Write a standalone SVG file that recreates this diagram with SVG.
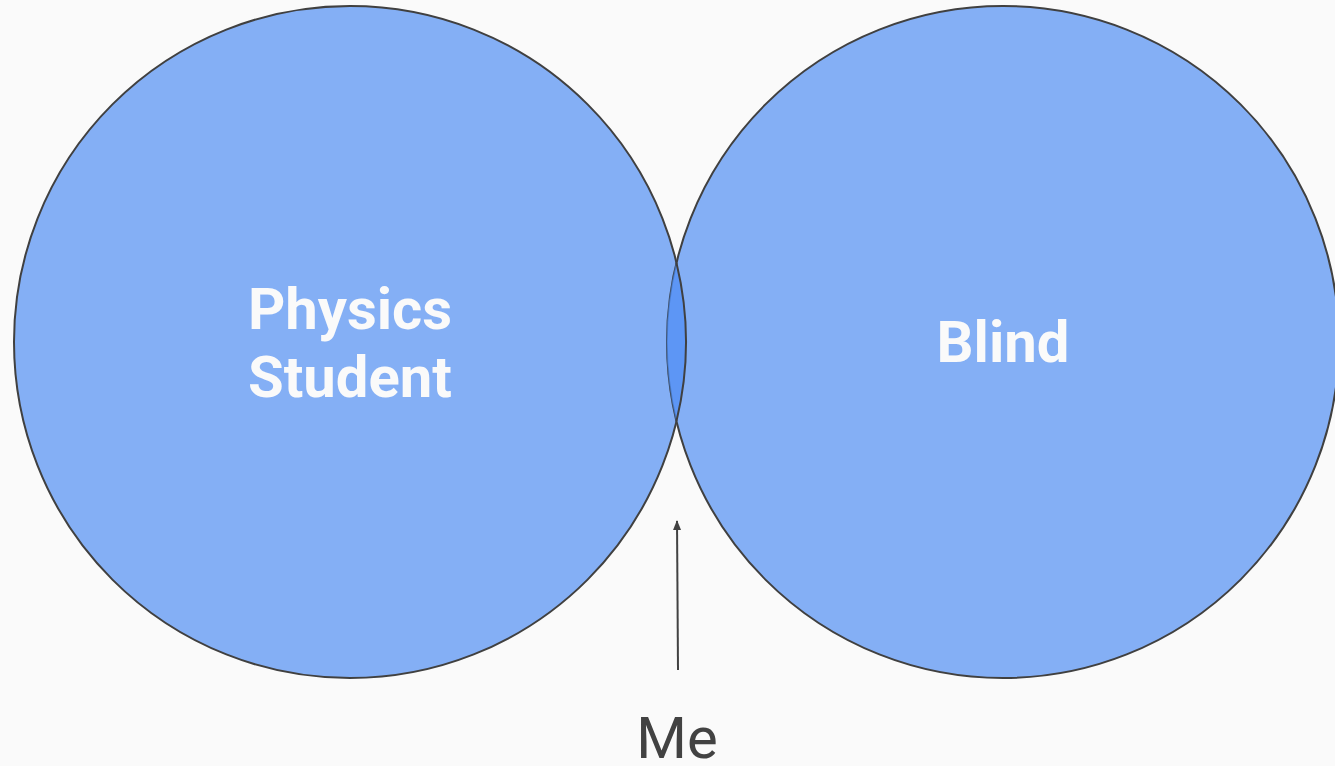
<svg xmlns="http://www.w3.org/2000/svg" width="1335" height="766" viewBox="0 0 1335 766">
<style>
.circ{fill:#84aff5;stroke:#404040;stroke-width:2}
.lbl{font-family:Roboto,"Liberation Sans",sans-serif;font-weight:bold;font-size:58px;fill:#fafafa;text-anchor:middle}
.me{font-family:Roboto,"Liberation Sans",sans-serif;font-size:58px;fill:#424242;text-anchor:middle}
</style>
<defs>
<marker id="ah" markerWidth="10" markerHeight="10" refX="9" refY="5" orient="auto" markerUnits="userSpaceOnUse">
<path d="M0,1 L10,5 L0,9 Z" fill="#424242"/>
</marker>
</defs>
<rect width="1335" height="766" fill="#fafafa"/>
<g id="node-physics">
<circle class="circ" cx="350" cy="342" r="336"/>
<text class="lbl" x="350" y="329">Physics</text>
<text class="lbl" x="350" y="397">Student</text>
</g>
<g id="node-blind">
<circle class="circ" cx="1003" cy="342" r="336"/>
<text class="lbl" x="1003" y="362">Blind</text>
</g>
<g id="node-overlap">
<path d="M676.5,263 A336,336 0 0 1 676.5,421 A336,336 0 0 1 676.5,263 Z" fill="#5d96f5"/>
<path d="M676.5,421 A336,336 0 0 1 676.5,263" fill="none" stroke="#3f6fb8" stroke-width="1.5" opacity="0.6"/>
<path d="M676.5,263 A336,336 0 0 1 676.5,421" fill="none" stroke="#404040" stroke-width="2"/>
</g>
<g id="connectors">
<line x1="678" y1="670" x2="677" y2="521" stroke="#424242" stroke-width="2" marker-end="url(#ah)"/>
</g>
<g id="label-me">
<text class="me" x="677" y="758">Me</text>
</g>
</svg>
